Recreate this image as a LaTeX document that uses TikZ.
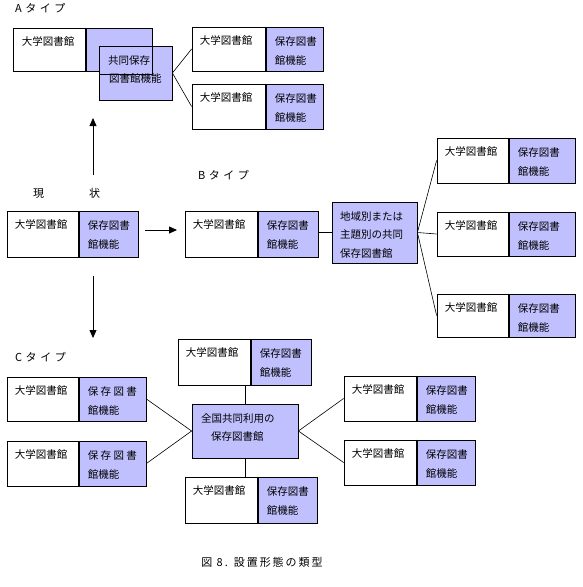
\documentclass[tikz,border=0pt]{standalone}
\usepackage{fontspec}
\setmainfont{Noto Sans CJK JP}
\usetikzlibrary{fit,arrows.meta}
\definecolor{lav}{RGB}{192,192,255}
\tikzset{
  wpart/.style={draw, fill=white, inner sep=0pt, line width=0.8pt},
  ppart/.style={draw, fill=lav, inner sep=0pt, line width=0.8pt},
  txt/.style={anchor=west, inner sep=0pt, font=\fontsize{10.5}{12}\selectfont},
  head/.style={anchor=west, inner sep=0pt, font=\fontsize{11}{13}\selectfont\addfontfeature{LetterSpace=32}},
  conn/.style={line width=0.6pt},
  arr/.style={line width=0.8pt, -{Triangle[length=8pt,width=7pt]}},
}
% name, x1, y1, xmid, x2, y2, divider width, purple first line
\newcommand\ulib[8]{%
  \node[wpart, fit={(#2,#3)(#4,#6)}] (#1w) {};
  \node[ppart, fit={(#4,#3)(#5,#6)}] (#1p) {};
  \draw[line width=#7] (#1p.north west) -- (#1p.south west);
  \node[txt] (#1a) at ([shift={(8,14)}]#1w.north west) {大学図書館};
  \node[txt] (#1b) at ([shift={(9,15)}]#1p.north west) {#8};
  \node[txt] (#1c) at ([shift={(9,34)}]#1p.north west) {館機能};
}
\begin{document}
\begin{tikzpicture}[x=1pt,y=-1pt]
\useasboundingbox[fill=white] (0,0) rectangle (582,587);

% ---------- A type ----------
\node[head] (hA) at (15,8) {Aタイプ};
\node[wpart, fit={(13,28)(86,71)}] (a1w) {};
\node[ppart, fit={(86,28)(152,71)}] (a1p) {};
\draw[line width=1.6pt] (a1p.north west) -- (a1p.south west);
\node[txt] (a1a) at ([shift={(9,14)}]a1w.north west) {大学図書館};
\node[ppart, fit={(99,46)(172,100)}] (ov) {};
\node[draw, inner sep=0pt, line width=0.8pt, fit={(99,46)(152,74)}] (ovf) {};
\node[txt] (ova) at (108,61) {共同保存};
\node[txt] (ovb) at (109,79) {図書館機能};

\ulib{ar1}{192}{27}{266}{323}{71}{0.8pt}{保存図書}
\ulib{ar2}{192}{84}{266}{323}{129}{1.6pt}{保存図書}
\draw[conn] (ov.east) -- (ar1w.west);
\draw[conn] (ov.east) -- (ar2w.west);

% ---------- current ----------
\coordinate (u1) at (93,175);
\coordinate (u2) at (93,118);
\draw[arr] (u1) -- (u2);
\node[txt, font=\fontsize{11}{13}\selectfont] (cur) at (33,193) {現\hspace{45pt}状};
\ulib{c0}{7}{211}{79}{138}{257}{0.8pt}{保存図書}
\coordinate (r1) at (145,230);
\coordinate (r2) at (177,230);
\draw[arr] (r1) -- (r2);
\coordinate (d1) at (93,276);
\coordinate (d2) at (93,338);
\draw[arr] (d1) -- (d2);

% ---------- B type ----------
\node[head] (hB) at (198,175) {Bタイプ};
\ulib{b}{185}{211}{258}{318}{257}{1.6pt}{保存図書}
\node[ppart, fit={(332,202)(417,263)}] (bc) {};
\node[txt] (bc1) at (340,217) {地域別または};
\node[txt] (bc2) at (340,235) {主題別の共同};
\node[txt] (bc3) at (340,254) {保存図書館};
\draw[conn] (bc.west) -- (bc.west -| bp.east);
\ulib{br1}{437}{138}{509}{575}{183}{0.8pt}{保存図書}
\ulib{br2}{437}{212}{509}{575}{256}{0.8pt}{保存図書}
\ulib{br3}{437}{294}{509}{575}{337}{0.8pt}{保存図書}
\draw[conn] (bc.east) -- (br1w.west);
\draw[conn] (bc.east) -- (br2w.west);
\draw[conn] (bc.east) -- (br3w.west);

% ---------- C type ----------
\node[head] (hC) at (15,357) {Cタイプ};
\ulib{cl1}{7}{377}{79}{146}{421}{0.8pt}{保 存 図 書}
\ulib{cl2}{7}{441}{79}{146}{486}{0.8pt}{保 存 図 書}
\ulib{ct}{178}{339}{251}{311}{385}{0.8pt}{保存図書}
\node[ppart, fit={(192,404)(298,458)}] (cc) {};
\node[txt] (cc1) at (201,419) {全国共同利用の};
\node[txt] (cc2) at (211,437) {保存図書館};
\ulib{cb}{185}{477}{258}{317}{523}{1.6pt}{保存図書}
\ulib{cr1}{344}{376}{417}{475}{421}{1.6pt}{保存図書}
\ulib{cr2}{344}{440}{417}{475}{485}{1.6pt}{保存図書}
\draw[conn] (cl1p.east) -- (cc.west);
\draw[conn] (cl2p.east) -- (cc.west);
\draw[conn] (cc.east) -- (cr1w.west);
\draw[conn] (cc.east) -- (cr2w.west);
\draw[conn] (cc.north) -- (cc.north |- ctw.south);
\draw[conn] (cc.south) -- (cc.south |- cbw.north);

% ---------- caption ----------
\node[inner sep=0pt, font=\fontsize{11}{13}\selectfont\addfontfeature{LetterSpace=18}] (cap) at (262,562) {図 8. 設置形態の類型};
\end{tikzpicture}
\end{document}
